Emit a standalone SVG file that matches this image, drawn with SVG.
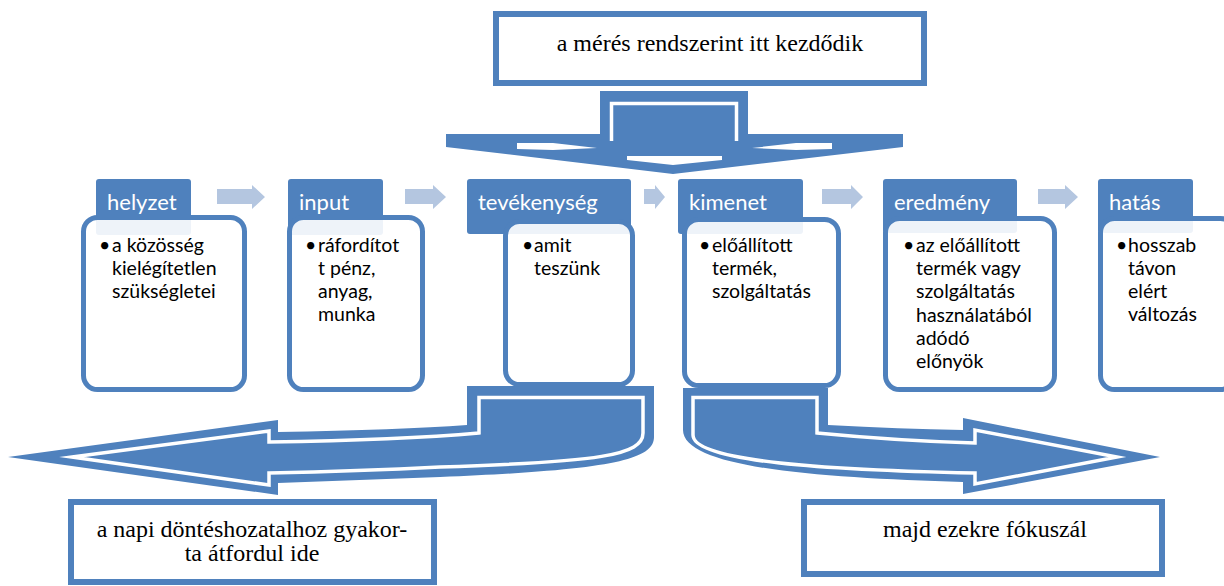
<svg xmlns="http://www.w3.org/2000/svg" width="1224" height="586" viewBox="0 0 1224 586">
<style>
.tab{fill:#4f81bd}
.body{fill:#fff;fill-opacity:0.9;stroke:#4f81bd;stroke-width:5}
.ht{font-family:Lato,"Liberation Sans",sans-serif;font-size:22px;fill:#fff}
.bt{font-family:Lato,"Liberation Sans",sans-serif;font-size:19.5px;fill:#000}
.flow{fill:#b4c6e0}
.big{fill:#4f81bd}
.wl{fill:none;stroke:#fff;stroke-width:3.5;stroke-linejoin:miter;stroke-miterlimit:20}
.wf{fill:#fff}
.box{fill:#fff;stroke:#4f81bd;stroke-width:6}
.st{font-family:"Liberation Serif",serif;font-size:24px;fill:#000}
</style>
<rect width="1224" height="586" fill="#fff"/>

<g id="connectors">
  <!-- flow arrows between stages -->
  <polygon class="flow" points="217,189 252,189 252,185 265,197 252,209 252,204 217,204"/>
  <polygon class="flow" points="405,189 433,189 433,185 446,197 433,209 433,204 405,204"/>
  <polygon class="flow" points="644,189 655,189 655,185 665,197 655,209 655,204 644,204"/>
  <polygon class="flow" points="822,189 851,189 851,185 863,197 851,209 851,204 822,204"/>
  <polygon class="flow" points="1038,189 1065,189 1065,185 1078,197 1065,209 1065,204 1038,204"/>

  <!-- top down arrow -->
  <g id="arrow-down">
    <path class="big" d="M600,91 H748 V134 H903 V147 L673,174 L446,147 V134 H600 Z"/>
    <path class="wl" d="M611.5,141 V103.5 H736.5 V141"/>
    <polygon class="wf" points="517,143 553,143 597,148 553,150 517,149"/>
    <polygon class="wf" points="832,143 796,143 752,148 796,150 832,149"/>
    <polygon class="wf" points="627,156 722,156 722,160 673,165 627,160"/>
  </g>

  <!-- bottom left curved arrow -->
  <g id="arrow-left">
    <path class="big" d="M8,457 L278,420 L278,432 Q400,430 467,425 L467,386 L654,386 L654,437 C654,460 610,470 440,477 Q360,480 278,483 L278,495 Z"/>
    <path class="wl" d="M72,457 L269,431 L269,442 Q400,440 479,433 L479,397.5 L643,397.5 L643,433 C643,455 600,462 440,467 Q360,471 269,473 L269,485 Z"/>
  </g>

  <!-- bottom right curved arrow -->
  <g id="arrow-right">
    <path class="big" d="M683,388 L828,388 L828,425 Q900,429 963,430 L963,418 L1160,457 L963,494 L963,482 C820,478 683,468 683,430 Z"/>
    <path class="wl" d="M693,397.5 L817,397.5 L817,433 Q900,441 975,443 L975,430 L1117,457 L975,484 L975,473 C830,470 693,462 693,435 Z"/>
  </g>
</g>

<g id="top-box">
  <rect class="box" x="496" y="14" width="428" height="69"/>
  <text class="st" x="710" y="51" text-anchor="middle">a mérés rendszerint itt kezdődik</text>
</g>

<g id="node-helyzet">
  <rect class="tab" x="96" y="179" width="95" height="56" rx="3"/>
  <rect class="body" x="83.5" y="217.5" width="161" height="172" rx="14"/>
  <text class="ht" x="107" y="210">helyzet</text>
  <text class="bt"><tspan x="99" y="252">•</tspan><tspan x="112" y="252">a közösség</tspan><tspan x="112" y="275">kielégítetlen</tspan><tspan x="112" y="298">szükségletei</tspan></text>
</g>

<g id="node-input">
  <rect class="tab" x="288" y="179" width="95" height="56" rx="3"/>
  <rect class="body" x="289.5" y="217.5" width="133" height="172" rx="14"/>
  <text class="ht" x="299" y="210">input</text>
  <text class="bt"><tspan x="305" y="252">•</tspan><tspan x="318" y="252">ráfordítot</tspan><tspan x="318" y="275">t pénz,</tspan><tspan x="318" y="298">anyag,</tspan><tspan x="318" y="321">munka</tspan></text>
</g>

<g id="node-tevekenyseg">
  <rect class="tab" x="467" y="179" width="164" height="55" rx="3"/>
  <rect class="body" x="505.5" y="221.5" width="127" height="163" rx="14"/>
  <text class="ht" x="478" y="210">tevékenység</text>
  <text class="bt"><tspan x="522" y="252">•</tspan><tspan x="534" y="252">amit</tspan><tspan x="534" y="275">teszünk</tspan></text>
</g>

<g id="node-kimenet">
  <rect class="tab" x="678" y="179" width="125" height="55" rx="3"/>
  <rect class="body" x="684.5" y="219.5" width="154" height="166" rx="14"/>
  <text class="ht" x="689" y="210">kimenet</text>
  <text class="bt"><tspan x="699" y="252">•</tspan><tspan x="712" y="252">előállított</tspan><tspan x="712" y="275">termék,</tspan><tspan x="712" y="298">szolgáltatás</tspan></text>
</g>

<g id="node-eredmeny">
  <rect class="tab" x="883" y="179" width="134" height="54" rx="3"/>
  <rect class="body" x="885.5" y="218.5" width="169" height="171" rx="14"/>
  <text class="ht" x="894" y="210">eredmény</text>
  <text class="bt"><tspan x="903" y="252">•</tspan><tspan x="916" y="252">az előállított</tspan><tspan x="916" y="275">termék vagy</tspan><tspan x="916" y="298">szolgáltatás</tspan><tspan x="916" y="322">használatából</tspan><tspan x="916" y="345">adódó</tspan><tspan x="916" y="368">előnyök</tspan></text>
</g>

<g id="node-hatas">
  <rect class="tab" x="1098" y="179" width="95" height="54" rx="3"/>
  <rect class="body" x="1100.5" y="218.5" width="134" height="171" rx="14"/>
  <text class="ht" x="1109" y="210">hatás</text>
  <text class="bt"><tspan x="1116" y="252">•</tspan><tspan x="1128" y="252">hosszab</tspan><tspan x="1128" y="275">távon</tspan><tspan x="1128" y="298">elért</tspan><tspan x="1128" y="321">változás</tspan></text>
</g>

<g id="box-left">
  <rect class="box" x="71" y="502" width="363" height="80"/>
  <text class="st" text-anchor="middle"><tspan x="252" y="537">a napi döntéshozatalhoz gyakor-</tspan><tspan x="252" y="561">ta átfordul ide</tspan></text>
</g>

<g id="box-right">
  <rect class="box" x="804" y="502" width="358" height="72"/>
  <text class="st" x="985" y="537" text-anchor="middle">majd ezekre fókuszál</text>
</g>
</svg>
